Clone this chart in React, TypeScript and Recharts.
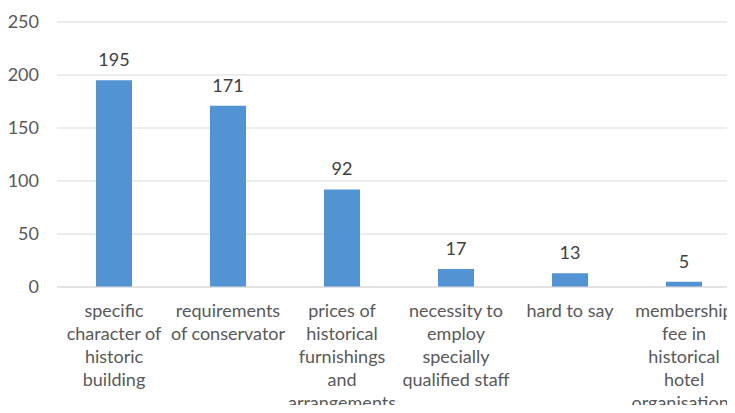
import React from 'react';
import { BarChart, Bar, XAxis, YAxis, CartesianGrid, LabelList } from 'recharts';

// categories are pre-wrapped the way the original axis wraps them
const categories = [
  'specific|character of|historic|building',
  'requirements|of conservator',
  'prices of|historical|furnishings|and|arrangements',
  'necessity to|employ|specially|qualified staff',
  'hard to say',
  'membership|fee in|historical|hotel|organisations',
];
const counts = [195, 171, 92, 17, 13, 5];
const yTicks = [0, 50, 100, 150, 200, 250];

const data = categories.map((c, i) => ({ name: c, value: counts[i] }));

const FONT = 'Lato, "Noto Sans", sans-serif';

const WrappedTick = (props: any) => {
  const { x, y, payload } = props;
  const lines: string[] = String(payload.value).split('|');
  return (
    <text x={x} y={y} textAnchor="middle" fill="#595959" fontSize={18} fontFamily={FONT}>
      {lines.map((l, i) => (
        <tspan key={i} x={x} dy={i === 0 ? 22 : 23}>
          {l}
        </tspan>
      ))}
    </text>
  );
};

export default function App() {
  return (
    <div style={{ margin: -8, width: 735, height: 413, overflow: 'hidden', background: '#fff' }}>
      <BarChart
        width={741}
        height={413}
        data={data}
        margin={{ top: 22, right: 0, left: 0, bottom: 0 }}
        barCategoryGap={0}
      >
        <CartesianGrid vertical={false} stroke="#d9d9d9" />
        <XAxis
          dataKey="name"
          interval={0}
          tick={<WrappedTick />}
          tickLine={false}
          axisLine={{ stroke: '#d9d9d9' }}
          height={126}
        />
        <YAxis
          domain={[0, 250]}
          ticks={yTicks}
          width={57}
          tickLine={false}
          tickSize={0}
          tickMargin={18}
          axisLine={false}
          tick={{ fontSize: 18, fill: '#595959', fontFamily: FONT }}
        />
        <Bar dataKey="value" fill="#5294d3" barSize={36} isAnimationActive={false}>
          <LabelList
            dataKey="value"
            position="top"
            offset={14}
            fill="#404040"
            fontSize={18}
            fontFamily={FONT}
          />
        </Bar>
      </BarChart>
    </div>
  );
}
